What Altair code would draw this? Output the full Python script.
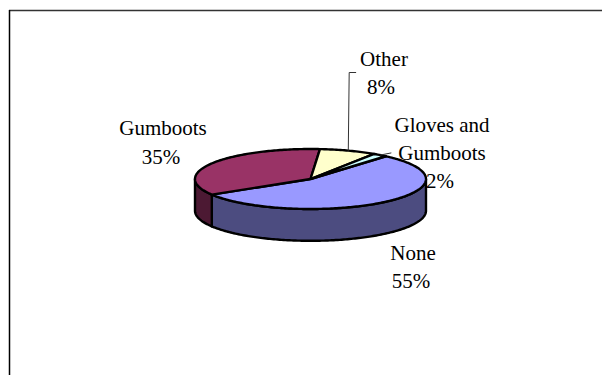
import math
import altair as alt
import pandas as pd

categories = ["None", "Gumboots", "Other", "Gloves and Gumboots"]
shares = [55, 35, 8, 2]
top_colors = ["#9999FF", "#993366", "#FFFFCC", "#CCFFFF"]
wall_colors = ["#4C4C80", "#4C1933", "#80805F", "#5F8080"]

START_DEG = 310.7   # where the first slice begins, clockwise on screen from east
DEPTH = 1.06        # wall height in units of the flattened minor radius
STEP = 1.0


def arc_points(a0, a1):
    n = max(2, int(abs(a1 - a0) / STEP) + 1)
    return [a0 + (a1 - a0) * i / (n - 1) for i in range(n)]


def slice_outline(a0, a1):
    pts = [(0.0, 0.0)]
    pts += [(math.cos(math.radians(a)), math.sin(math.radians(a))) for a in arc_points(a0, a1)]
    pts.append((0.0, 0.0))
    return pts


def wall_outline(a0, a1):
    arc = arc_points(a0, a1)
    rim = [(math.cos(math.radians(a)), math.sin(math.radians(a))) for a in arc]
    low = [(x, y + DEPTH) for x, y in reversed(rim)]
    return rim + low + [rim[0]]


def to_frame(points):
    return pd.DataFrame(
        {"u": [p[0] for p in points], "v": [p[1] for p in points], "seq": range(len(points))}
    )


X = alt.X("u:Q", axis=None, scale=alt.Scale(domain=[-1, 1], range=[195.0, 426.0], zero=False, nice=False))
Y = alt.Y("v:Q", axis=None, scale=alt.Scale(domain=[-1, 1], range=[149.0, 209.0], zero=False, nice=False))


def outline_layer(points, fill):
    return (
        alt.Chart(to_frame(points))
        .mark_line(fill=fill, stroke="black", strokeWidth=2.4, strokeJoin="round", interpolate="linear")
        .encode(x=X, y=Y, order=alt.Order("seq:Q"))
    )


# Slice boundaries follow directly from the shares
bounds = []
angle = START_DEG
for s in shares:
    bounds.append((angle, angle + s * 3.6))
    angle += s * 3.6

layers = []

# Front walls: only the part of each slice below the horizontal diameter shows
for (a0, a1), color in zip(bounds, wall_colors):
    for turn in (0, 360):
        lo, hi = max(a0 - turn, 0), min(a1 - turn, 180)
        if lo < hi:
            layers.append(outline_layer(wall_outline(lo, hi), color))

# Top faces
for (a0, a1), color in zip(bounds, top_colors):
    layers.append(outline_layer(slice_outline(a0, a1), color))

# Leader lines start on the rim at each small slice's mid angle
other_mid = math.radians(sum(bounds[2]) / 2)
gloves_mid = math.radians(sum(bounds[3]) / 2)
other_leader = [(math.cos(other_mid), math.sin(other_mid)), (0.335, -3.55), (0.395, -3.55)]
gloves_leader = [(math.cos(gloves_mid), math.sin(gloves_mid)), (0.70, -0.87)]
for pts in (other_leader, gloves_leader):
    layers.append(
        alt.Chart(to_frame(pts))
        .mark_line(stroke="#333333", strokeWidth=1)
        .encode(x=X, y=Y, order=alt.Order("seq:Q"))
    )


def label(text, x, baseline_y):
    return alt.Chart(pd.DataFrame({"t": [text]})).mark_text(
        font="Liberation Serif", fontSize=21, color="black", align="center", baseline="alphabetic"
    ).encode(x=alt.value(x), y=alt.value(baseline_y), text="t:N")


labels = [
    label("Other", 384, 66),
    label(f"{shares[2]}%", 381, 94),
    label("Gumboots", 163, 135),
    label(f"{shares[1]}%", 161, 164),
    label("Gloves and", 442, 132),
    label("Gumboots", 442, 160),
    label(f"{shares[3]}%", 440, 188),
    label("None", 413, 260),
    label(f"{shares[0]}%", 411, 288),
]

# Frame drawn only along the top and left edges
frame = [
    alt.Chart(pd.DataFrame({"k": [0]})).mark_rule(color="#333333", strokeWidth=1.5).encode(
        x=alt.value(9), x2=alt.value(602), y=alt.value(10.5)
    ),
    alt.Chart(pd.DataFrame({"k": [0]})).mark_rule(color="black", strokeWidth=1.5).encode(
        x=alt.value(9.5), y=alt.value(10), y2=alt.value(375)
    ),
]

chart = (
    alt.layer(*frame, *layers, *labels)
    .properties(width=602, height=375, padding=0, autosize=alt.AutoSizeParams(type="none"), background="white")
    .configure_view(stroke=None)
)

chart.save("out.html", embed_options={"renderer": "svg", "actions": False})
